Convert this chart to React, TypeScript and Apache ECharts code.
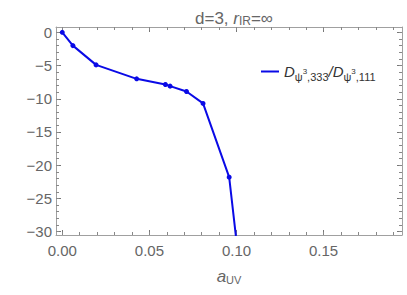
import React, { useEffect, useRef } from "react";
import * as echarts from "echarts";

const xValues = [0, 0.0061, 0.0194, 0.0427, 0.0592, 0.0619, 0.0713, 0.0808, 0.0958, 0.1005];
const yValues = [0, -2.0, -4.9, -7.0, -7.85, -8.1, -8.9, -10.7, -21.8, -32.6];
const xMajorTicks = [0, 0.05, 0.1, 0.15];
const xMinorTicks = [0, 0.01, 0.02, 0.03, 0.04, 0.05, 0.06, 0.07, 0.08, 0.09, 0.1, 0.11, 0.12, 0.13, 0.14, 0.15, 0.16, 0.17, 0.18, 0.19];
const yMajorTicks = [0, -5, -10, -15, -20, -25, -30];
const yMinorTicks = [0, -1, -2, -3, -4, -5, -6, -7, -8, -9, -10, -11, -12, -13, -14, -15, -16, -17, -18, -19, -20, -21, -22, -23, -24, -25, -26, -27, -28, -29, -30];
const seriesName = "ratio";

const X_MIN = -0.0036;
const X_MAX = 0.195;
const Y_MIN = -30.5;
const Y_MAX = 0.8;

const FONT = "'Liberation Sans', Arial, sans-serif";
const GRAY = "#666";
const FRAME = "#a0a0a0";
const BLUE = "#0a0ae6";
const LEG = "#333";

export default function App() {
  const ref = useRef<HTMLDivElement>(null);
  useEffect(() => {
    if (!ref.current) return;
    const chart = echarts.init(ref.current, null, { renderer: "svg" });
    const fmt = (v: number, d: number) => {
      const s = d > 0 ? v.toFixed(d) : String(v);
      return s.replace("-", "\u2212");
    };
    const baseX = {
      type: "value" as const,
      min: X_MIN,
      max: X_MAX,
      splitLine: { show: false },
    };
    const baseY = {
      type: "value" as const,
      min: Y_MIN,
      max: Y_MAX,
      splitLine: { show: false },
    };
    const option: any = {
      animation: false,
      textStyle: { fontFamily: FONT },
      title: {
        text: "{n|d=3, }{i|r}{s|IR}{n|=\u221e}",
        left: 229,
        top: 1,
        textAlign: "center",
        textStyle: {
          fontWeight: "normal",
          rich: {
            n: { fontSize: 17, color: GRAY, fontFamily: FONT, fontWeight: "normal", verticalAlign: "bottom", lineHeight: 21 },
            i: { fontSize: 17, color: GRAY, fontFamily: FONT, fontWeight: "normal", fontStyle: "italic", verticalAlign: "bottom", lineHeight: 21 },
            s: { fontSize: 12, color: GRAY, fontFamily: FONT, fontWeight: "normal", verticalAlign: "bottom", lineHeight: 16 },
          },
        },
      },
      legend: {
        left: 256,
        top: 59,
        icon: "rect",
        itemWidth: 18,
        itemHeight: 2,
        itemGap: 6,
        data: [seriesName],
        formatter: () =>
          "{i|D}{s|\u03c8}{p|3}{s|,333}{n|/}{i|D}{s|\u03c8}{p|3}{s|,111}",
        textStyle: {
          color: LEG,
          rich: {
            i: { fontSize: 15, color: LEG, fontFamily: FONT, fontStyle: "italic", verticalAlign: "middle", lineHeight: 22 },
            n: { fontSize: 15, color: LEG, fontFamily: FONT, fontStyle: "italic", verticalAlign: "middle", lineHeight: 22 },
            s: { fontSize: 11, color: LEG, fontFamily: FONT, verticalAlign: "bottom", lineHeight: 14 },
            p: { fontSize: 8, color: LEG, fontFamily: FONT, verticalAlign: "middle", lineHeight: 16 },
          },
        },
      },
      grid: { left: 56, top: 27, right: 5, bottom: 60, containLabel: false },
      xAxis: [
        {
          ...baseX,
          position: "bottom",
          name: "{i|a}{s|UV}",
          nameLocation: "middle",
          nameGap: 30,
          nameTextStyle: {
            rich: {
              i: { fontSize: 17, color: GRAY, fontFamily: FONT, fontStyle: "italic", verticalAlign: "bottom", lineHeight: 20 },
              s: { fontSize: 11, color: GRAY, fontFamily: FONT, verticalAlign: "bottom", lineHeight: 16 },
            },
          },
          axisLine: { show: true, onZero: false, lineStyle: { color: FRAME, width: 1 } },
          axisTick: { show: true, inside: true, length: 5, customValues: xMajorTicks, lineStyle: { color: "#777" } },
          axisLabel: {
            show: true,
            customValues: xMajorTicks,
            formatter: (v: number) => fmt(v, 2),
            color: GRAY,
            fontSize: 15,
            fontFamily: FONT,
            margin: 8,
          },
        },
        {
          ...baseX,
          position: "bottom",
          axisLine: { show: false, onZero: false },
          axisTick: { show: true, inside: true, length: 3, customValues: xMinorTicks, lineStyle: { color: "#888" } },
          axisLabel: { show: false },
        },
        {
          ...baseX,
          position: "top",
          axisLine: { show: true, onZero: false, lineStyle: { color: FRAME, width: 1 } },
          axisTick: { show: true, inside: true, length: 5, customValues: xMajorTicks, lineStyle: { color: "#777" } },
          axisLabel: { show: false },
        },
        {
          ...baseX,
          position: "top",
          axisLine: { show: false, onZero: false },
          axisTick: { show: true, inside: true, length: 3, customValues: xMinorTicks, lineStyle: { color: "#888" } },
          axisLabel: { show: false },
        },
      ],
      yAxis: [
        {
          ...baseY,
          position: "left",
          axisLine: { show: true, onZero: false, lineStyle: { color: FRAME, width: 1 } },
          axisTick: { show: true, inside: true, length: 5, customValues: yMajorTicks, lineStyle: { color: "#777" } },
          axisLabel: {
            show: true,
            customValues: yMajorTicks,
            formatter: (v: number) => fmt(v, 0),
            color: GRAY,
            fontSize: 15,
            fontFamily: FONT,
            margin: 4,
          },
        },
        {
          ...baseY,
          position: "left",
          axisLine: { show: false, onZero: false },
          axisTick: { show: true, inside: true, length: 3, customValues: yMinorTicks, lineStyle: { color: "#888" } },
          axisLabel: { show: false },
        },
        {
          ...baseY,
          position: "right",
          axisLine: { show: true, onZero: false, lineStyle: { color: FRAME, width: 1 } },
          axisTick: { show: true, inside: true, length: 5, customValues: yMajorTicks, lineStyle: { color: "#777" } },
          axisLabel: { show: false },
        },
        {
          ...baseY,
          position: "right",
          axisLine: { show: false, onZero: false },
          axisTick: { show: true, inside: true, length: 3, customValues: yMinorTicks, lineStyle: { color: "#888" } },
          axisLabel: { show: false },
        },
      ],
      series: [
        {
          name: seriesName,
          type: "line",
          xAxisIndex: 0,
          yAxisIndex: 0,
          data: xValues.map((x, i) => [x, yValues[i]]),
          clip: true,
          symbol: "circle",
          symbolSize: 5,
          showAllSymbol: true,
          lineStyle: { color: BLUE, width: 2 },
          itemStyle: { color: BLUE },
        },
      ],
    };
    chart.setOption(option);
    return () => chart.dispose();
  }, []);
  return <div ref={ref} style={{ width: 407, height: 295, position: "absolute", left: 0, top: 0 }} />;
}
